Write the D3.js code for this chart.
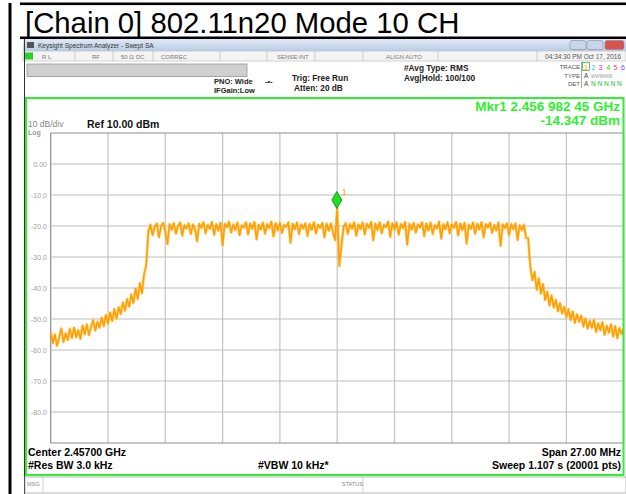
<!DOCTYPE html>
<html>
<head>
<meta charset="utf-8">
<script src="https://cdnjs.cloudflare.com/ajax/libs/d3/7.8.5/d3.min.js"></script>
<style>
  body { margin: 0; background: #fff; }
  svg text { font-family: "Liberation Sans", Arial, sans-serif; }
</style>
</head>
<body>
<svg id="chart" width="626" height="494"></svg>
<script>
// ---- values -----------------------------------------------------------------
var TITLE = '[Chain 0] 802.11n20 Mode 10 CH';

var START_MHZ = 2443.5,          // center 2.45700 GHz, span 27.00 MHz
    STOP_MHZ = 2470.5,
    STEP_MHZ = 0.1;

var yTicks = [0, -10, -20, -30, -40, -50, -60, -70, -80],
    yTickLabels = ['0.00', '-10.0', '-20.0', '-30.0', '-40.0', '-50.0', '-60.0', '-70.0', '-80.0'];

// 2443.5 .. 2448.0 MHz
var lowerSkirtDbm = [
  -54.2, -57.8, -55.0, -58.6, -55.9, -53.1, -57.4, -54.6, -56.8, -53.2,
  -56.1, -52.8, -55.9, -53.6, -56.4, -52.1, -54.9, -51.8, -55.2, -52.6,
  -50.4, -53.7, -50.9, -52.8, -49.6, -52.3, -48.7, -51.5, -47.9, -50.6,
  -46.8, -49.9, -46.2, -48.4, -44.7, -47.3, -43.6, -46.0, -42.1, -44.8,
  -40.2, -43.5, -38.4, -41.7, -35.6, -32.8];

// 2448.1 .. 2465.9 MHz (occupied channel)
var channelDbm = [
  -21.8, -19.6, -22.9, -20.4, -19.2, -23.6, -20.1, -19.0, -21.7, -25.8,
  -19.4, -21.2, -19.1, -22.4, -20.0, -18.9, -23.1, -19.7, -20.8, -19.2,
  -22.6, -19.5, -21.0, -24.9, -19.3, -20.6, -18.8, -22.3, -19.6, -20.9,
  -18.7, -22.8, -19.4, -21.5, -19.0, -26.2, -19.3, -20.4, -18.6, -22.1,
  -19.5, -21.3, -18.9, -23.0, -19.8, -20.5, -18.8, -22.7, -19.2, -20.9,
  -18.7, -24.3, -19.6, -21.1, -18.9, -22.5, -19.4, -20.7, -18.6, -23.4,
  -19.1, -21.4, -19.0, -22.2, -19.7, -20.3, -18.8, -25.4, -19.3, -21.0,
  -18.9, -22.6, -19.5, -20.8, -19.1, -23.2, -19.4, -21.2, -18.8, -22.4,
  -19.6, -20.6, -19.0, -23.7, -19.3, -21.5, -19.2, -22.0, -24.6, -14.3,
  -32.9, -26.4, -20.3, -19.1, -22.5, -19.4, -20.9, -18.8, -23.1, -19.5,
  -21.0, -18.9, -22.7, -19.3, -20.6, -18.7, -24.6, -19.2, -21.3, -18.8,
  -22.3, -19.6, -20.4, -18.6, -23.5, -19.1, -21.1, -18.9, -22.8, -19.4,
  -20.7, -18.7, -26.0, -19.3, -21.2, -19.0, -22.1, -19.5, -20.5, -18.8,
  -23.3, -19.2, -21.4, -18.9, -22.6, -19.7, -20.8, -18.6, -24.1, -19.4,
  -21.0, -18.8, -22.4, -19.5, -20.6, -18.7, -23.0, -19.2, -21.3, -19.0,
  -25.7, -19.6, -20.9, -18.9, -22.5, -19.3, -21.1, -18.8, -23.6, -19.4,
  -20.5, -19.0, -22.2, -19.7, -21.4, -18.9, -26.4, -19.5, -20.7, -19.1,
  -22.9, -19.4, -21.0, -19.2, -24.5, -19.8, -21.3, -19.6, -23.8];

// 2466.0 .. 2470.5 MHz
var upperSkirtDbm = [
  -24.0, -33.2, -37.5, -34.8, -40.6, -36.9, -41.8, -38.7, -43.9, -41.2,
  -45.6, -42.4, -46.3, -43.8, -47.5, -44.9, -48.2, -46.1, -49.4, -46.8,
  -50.3, -47.6, -51.2, -48.5, -50.9, -48.9, -52.4, -49.8, -53.1, -50.6,
  -52.8, -50.3, -54.2, -51.4, -53.6, -51.0, -55.1, -52.2, -54.4, -51.7,
  -55.6, -52.3, -56.2, -52.9, -54.8, -53.1];

var MKR_MHZ = 2456.98245,
    MKR_DBM = -14.347;

// ---- layout -----------------------------------------------------------------
var svg = d3.select('#chart'),
    plot = {left: 50.7, right: 623.7, top: 133, bottom: 443},
    GREEN = '#2ef02e',
    ORANGE = '#ffa000';

var x = d3.scaleLinear().domain([START_MHZ, STOP_MHZ]).range([plot.left, plot.right]),
    y = d3.scaleLinear().domain([-90, 10]).range([plot.bottom, plot.top]);

var trace = [].concat(lowerSkirtDbm, channelDbm, upperSkirtDbm).map(function(d, i) {
    return {f: START_MHZ + i * STEP_MHZ, v: d};
});

function txt(g, x0, y0, s, size, opts) {
    opts = opts || {};
    return g.append('text')
        .attr('x', x0).attr('y', y0)
        .attr('font-size', size)
        .attr('font-weight', opts.bold ? 'bold' : 'normal')
        .attr('fill', opts.fill || '#000')
        .attr('text-anchor', opts.anchor || 'start')
        .text(s);
}

// page frame + title
svg.append('rect').attr('width', 626).attr('height', 494).attr('fill', '#fff');
svg.append('rect').attr('x', 8.5).attr('y', 3).attr('width', 3).attr('height', 491).attr('fill', '#000');
svg.append('rect').attr('x', 20).attr('y', 2.5).attr('width', 606).attr('height', 2.6).attr('fill', '#000');
svg.append('rect').attr('x', 20).attr('y', 36.5).attr('width', 606).attr('height', 2.6).attr('fill', '#000');
txt(svg, 25, 32.5, TITLE, 29.3);

// ---- analyzer window chrome -------------------------------------------------
var win = svg.append('g');
var grad = svg.append('defs').append('linearGradient')
    .attr('id', 'tb').attr('x1', 0).attr('y1', 0).attr('x2', 0).attr('y2', 1);
grad.append('stop').attr('offset', 0).attr('stop-color', '#dfe8f5');
grad.append('stop').attr('offset', 1).attr('stop-color', '#bccde5');

win.append('rect').attr('x', 23).attr('y', 39).attr('width', 603).attr('height', 455).attr('fill', '#fff');
win.append('rect').attr('x', 23).attr('y', 39).attr('width', 603).attr('height', 12).attr('fill', 'url(#tb)');
win.append('rect').attr('x', 27).attr('y', 42).attr('width', 7).attr('height', 6).attr('fill', '#555');
txt(win, 38, 48, 'Keysight Spectrum Analyzer - Swept SA', 6.5, {fill: '#333'});
[[570, '#c9d6e8'], [587, '#c9d6e8'], [605, '#d9534f']].forEach(function(b) {
    win.append('rect').attr('x', b[0]).attr('y', 40.5).attr('width', b[0] === 605 ? 19 : 16)
        .attr('height', 9).attr('rx', 2).attr('fill', b[1]).attr('stroke', '#7f8ea6').attr('stroke-width', 0.6);
});

// status row
win.append('rect').attr('x', 23).attr('y', 51).attr('width', 603).attr('height', 10)
    .attr('fill', '#f4f4f4').attr('stroke', '#b8b8b8').attr('stroke-width', 0.6);
[75, 113, 153, 220, 267, 315, 363, 438, 537].forEach(function(d) {
    win.append('line').attr('x1', d).attr('x2', d).attr('y1', 51).attr('y2', 61)
        .attr('stroke', '#b0b0b0').attr('stroke-width', 0.6);
});
win.append('rect').attr('x', 25).attr('y', 52.5).attr('width', 8).attr('height', 7).attr('fill', '#2bd12b');
[[42, 'R L'], [92, 'RF'], [121, '50 Ω'], [136, 'DC'], [161, 'CORREC'], [277, 'SENSE:INT'], [386, 'ALIGN AUTO']]
    .forEach(function(d) { txt(win, d[0], 58.5, d[1], 6, {fill: '#777'}); });
txt(win, 621, 58.5, '04:34:30 PM Oct 17, 2016', 6.5, {fill: '#555', anchor: 'end'});

// settings block
win.append('rect').attr('x', 27).attr('y', 64).attr('width', 220).attr('height', 12.5)
    .attr('fill', '#cfcfcf').attr('stroke', '#8a8a8a').attr('stroke-width', 0.7);
txt(win, 214, 84, 'PNO: Wide', 7.5, {bold: true, fill: '#222'});
txt(win, 214, 93, 'IFGain:Low', 7.5, {bold: true, fill: '#222'});
txt(win, 265, 84, '-•-', 7.5, {bold: true, fill: '#222'});
txt(win, 292, 81, 'Trig: Free Run', 8.3, {bold: true, fill: '#222'});
txt(win, 294, 91, 'Atten: 20 dB', 8.3, {bold: true, fill: '#222'});
txt(win, 404, 71, '#Avg Type: RMS', 8.3, {bold: true, fill: '#222'});
txt(win, 404, 81, 'Avg|Hold: 100/100', 8.3, {bold: true, fill: '#222'});
txt(win, 580, 69, 'TRACE', 6, {fill: '#555', anchor: 'end'});
txt(win, 580, 77.5, 'TYPE', 6, {fill: '#555', anchor: 'end'});
txt(win, 580, 86, 'DET', 6, {fill: '#555', anchor: 'end'});
win.append('line').attr('x1', 581.5).attr('x2', 581.5).attr('y1', 62).attr('y2', 88).attr('stroke', '#8a8a8a').attr('stroke-width', 0.7);
win.append('rect').attr('x', 582.5).attr('y', 62.5).attr('width', 7).attr('height', 8)
    .attr('fill', 'none').attr('stroke', '#3a3').attr('stroke-width', 0.7);
['#ff9900', '#22bbee', '#ee22ee', '#22cc22', '#ff3366', '#9933ff'].forEach(function(c, i) {
    txt(win, 584 + i * 7.4, 69.5, String(i + 1), 7, {fill: c});
});
txt(win, 584, 77.5, 'A', 6.5, {fill: '#444'});
txt(win, 591, 77.5, 'WWWWW', 4.5, {fill: '#999'});
txt(win, 584, 86, 'A', 6.5, {fill: '#444'});
txt(win, 591, 86, 'N N N N N', 6.5, {fill: '#22bb22'});

// ---- measurement screen -----------------------------------------------------
txt(svg, 620, 110.5, 'Mkr1 2.456 982 45 GHz', 13.5, {bold: true, fill: GREEN, anchor: 'end'});
txt(svg, 620, 125, '-14.347 dBm', 13.5, {bold: true, fill: GREEN, anchor: 'end'});
txt(svg, 28, 127, '10 dB/div', 8.5, {fill: '#888'});
txt(svg, 87, 127.5, 'Ref 10.00 dBm', 10.5, {bold: true, fill: '#111'});
txt(svg, 28, 134.5, 'Log', 7, {bold: true, fill: '#999'});

var grid = svg.append('g');
d3.range(0, 11).forEach(function(i) {
    var gx = x(START_MHZ + i * 2.7);
    grid.append('line').attr('x1', gx).attr('x2', gx).attr('y1', plot.top).attr('y2', plot.bottom)
        .attr('stroke', i === 0 ? '#8c8c8c' : '#c4c4c4').attr('stroke-width', 1.2);
});
y.ticks(10).forEach(function(v) {
    grid.append('line').attr('x1', plot.left).attr('x2', plot.right).attr('y1', y(v)).attr('y2', y(v))
        .attr('stroke', (v === 10 || v === -90) ? '#8c8c8c' : '#bdbdbd').attr('stroke-width', 1.2);
});
yTicks.forEach(function(v, i) {
    txt(grid, 47, y(v) + 2.5, yTickLabels[i], 7, {fill: '#a0a0a0', anchor: 'end'});
});

svg.append('clipPath').attr('id', 'plotclip').append('rect')
    .attr('x', plot.left).attr('y', plot.top).attr('width', plot.right - plot.left).attr('height', plot.bottom - plot.top);

var line = d3.line()
    .x(function(d) { return x(d.f); })
    .y(function(d) { return y(d.v); });

// soft halo under the trace, then the trace itself
svg.append('path')
    .datum(trace)
    .attr('clip-path', 'url(#plotclip)')
    .attr('fill', 'none')
    .attr('stroke', '#ffc24d')
    .attr('stroke-opacity', 0.6)
    .attr('stroke-width', 3)
    .attr('stroke-linejoin', 'round')
    .attr('d', line);

svg.append('path')
    .datum(trace)
    .attr('clip-path', 'url(#plotclip)')
    .attr('fill', 'none')
    .attr('stroke', ORANGE)
    .attr('stroke-width', 1.6)
    .attr('stroke-linejoin', 'round')
    .attr('d', line);

// marker 1
var mx = x(MKR_MHZ), my = y(MKR_DBM);
svg.append('path')
    .attr('d', 'M' + mx + ',' + (my - 17) + 'L' + (mx + 5) + ',' + (my - 8.5) + 'L' + mx + ',' + my +
        'L' + (mx - 5) + ',' + (my - 8.5) + 'Z')
    .attr('fill', '#1ee01e').attr('stroke', '#0b7d0b').attr('stroke-width', 0.8);
txt(svg, mx + 5, my - 13, '1', 9, {fill: ORANGE});

// bottom annotations
txt(svg, 28, 456, 'Center 2.45700 GHz', 10.5, {bold: true});
txt(svg, 28, 469, '#Res BW 3.0 kHz', 10.5, {bold: true});
txt(svg, 258, 469, '#VBW 10 kHz*', 10.5, {bold: true});
txt(svg, 621, 456, 'Span 27.00 MHz', 10.5, {bold: true, anchor: 'end'});
txt(svg, 621, 469, 'Sweep  1.107 s (20001 pts)', 10.5, {bold: true, anchor: 'end'});

// green measurement frame
svg.append('rect').attr('x', 26).attr('y', 98).attr('width', 597.5).attr('height', 377)
    .attr('fill', 'none').attr('stroke', GREEN).attr('stroke-width', 2);
svg.append('line').attr('x1', 24.5).attr('x2', 24.5).attr('y1', 39).attr('y2', 494).attr('stroke', '#333').attr('stroke-width', 1);

// message bar
svg.append('rect').attr('x', 25).attr('y', 477).attr('width', 601).attr('height', 16)
    .attr('fill', '#fff').attr('stroke', '#999').attr('stroke-width', 0.7);
svg.append('line').attr('x1', 43).attr('x2', 43).attr('y1', 477).attr('y2', 493).attr('stroke', '#bbb').attr('stroke-width', 0.7);
svg.append('line').attr('x1', 363).attr('x2', 363).attr('y1', 477).attr('y2', 493).attr('stroke', '#bbb').attr('stroke-width', 0.7);
txt(svg, 27, 486, 'MSG', 5.5, {fill: '#888'});
txt(svg, 342, 486, 'STATUS', 5.5, {fill: '#888'});
</script>
</body>
</html>
